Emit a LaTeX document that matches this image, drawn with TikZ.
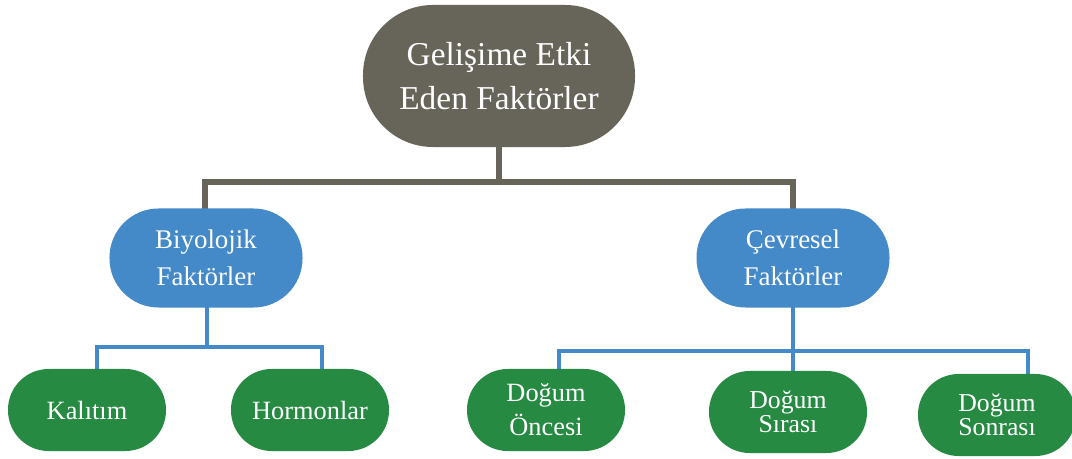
\documentclass[tikz,border=0pt]{standalone}
\usepackage{fontspec}
\setmainfont{Liberation Serif}

\definecolor{rootgrey}{HTML}{67645A}
\definecolor{midblue}{HTML}{4489C8}
\definecolor{leafgreen}{HTML}{268A43}

\tikzset{
	rootbox/.style={fill=rootgrey,text=white,rounded corners=2.1cm,minimum width=8.16cm,minimum height=4.26cm,align=center,inner sep=0pt,font=\fontsize{28.5}{37}\selectfont},
	midbox/.style={fill=midblue,text=white,rounded corners=1.47cm,minimum width=5.79cm,minimum height=2.97cm,align=center,inner sep=0pt,font=\fontsize{23}{32}\selectfont},
	leafbox/.style={fill=leafgreen,text=white,rounded corners=1.22cm,minimum width=4.74cm,minimum height=2.46cm,align=center,inner sep=0pt,font=\fontsize{22.5}{29}\selectfont},
	tightleaf/.style={leafbox,font=\fontsize{22}{18}\selectfont},
	greyline/.style={draw=rootgrey,line width=5pt},
	blueline/.style={draw=midblue,line width=4.2pt},
}

\begin{document}
\begin{tikzpicture}[x=0.03cm,y=-0.03cm]
\useasboundingbox (0,0) rectangle (1072,459);

% junctions
\coordinate (j1) at (499,182);
\coordinate (j2) at (207,347);
\coordinate (j3) at (793,351);

% connectors
\draw[greyline] (499,140) -- (j1);
\draw[greyline] (205,215) |- (j1) -| (793,215);
\draw[blueline] (207,300) -- (j2);
\draw[blueline] (97,375) |- (j2) -| (322,375);
\draw[blueline] (793,300) -- (j3);
\draw[blueline] (559,375) |- (j3) -| (1028,380);
\draw[blueline] (j3) -- (793,378);

% boxes
\node[rootbox] (root) at (499,76) {Gelişime Etki\\Eden Faktörler};

\node[midbox] (bio) at (206,258) {Biyolojik\\Faktörler};
\node[midbox] (cev) at (793,258) {Çevresel\\Faktörler};

\node[leafbox] (kal) at (87,410) {Kalıtım};
\node[leafbox] (hor) at (310,410) {Hormonlar};
\node[leafbox] (onc) at (546,410) {Doğum\\Öncesi};
\node[tightleaf] (sir) at (788,412) {Doğum\\Sırası};
\node[tightleaf] (son) at (997,415) {Doğum\\Sonrası};

\end{tikzpicture}
\end{document}
